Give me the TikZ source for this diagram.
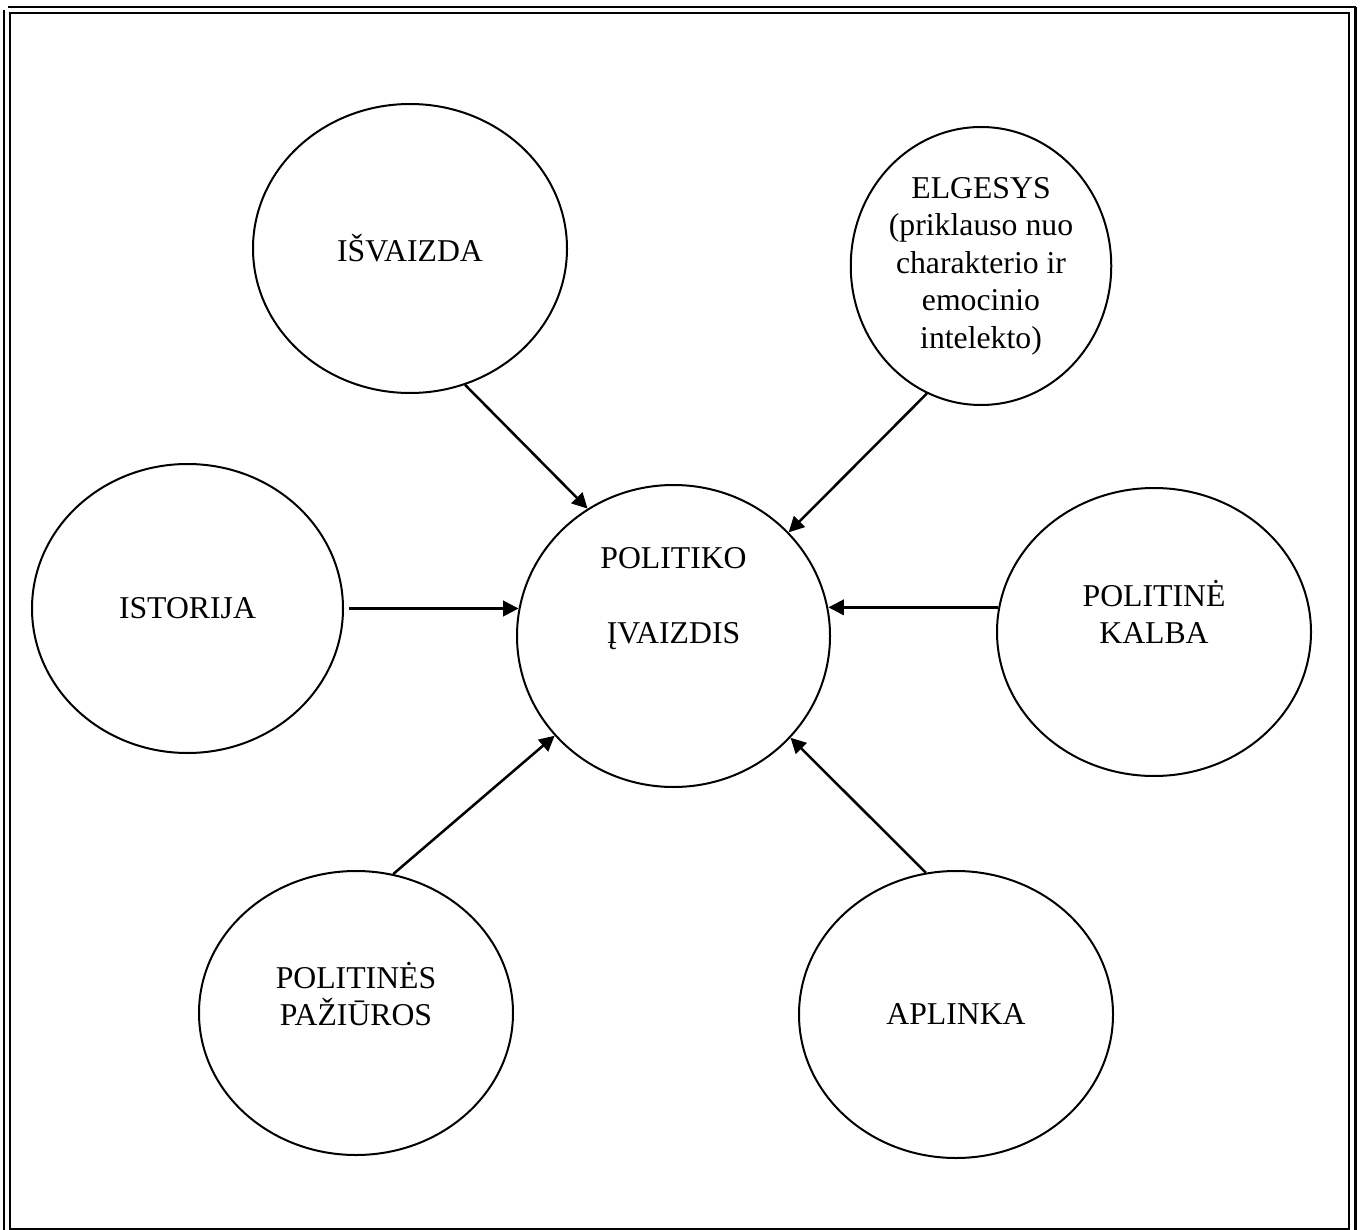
\documentclass[tikz,border=0pt]{standalone}
\usepackage{fontspec}
\setmainfont{Liberation Serif}
\usetikzlibrary{shapes.geometric,arrows.meta}
\def\pxu{0.75pt}
\begin{document}
\begin{tikzpicture}[x=0.75pt,y=-0.75pt,
  bubble/.style={ellipse, draw, line width=1.5pt, inner sep=0pt, align=center, font=\fontsize{23.8}{28.1}\selectfont},
  txt/.style={align=center, inner sep=0pt, font=\fontsize{23.8}{28.1}\selectfont},
  arr/.style={line width=1.9pt, -{Triangle[length=11.5pt,width=11.5pt]}},
  frame/.style={line width=1.6pt}]
\useasboundingbox (0,0) rectangle (1363,1230);
\fill[white] (0,0) rectangle (1363,1230);
% page border
\draw[frame] (8,7) -- (1356,7);
\draw[frame] (4,10) -- (4,1232);
\draw[frame] (1355.5,7) -- (1355.5,1232);
\draw[frame] (10,13) -- (1349,13) -- (1349,1229) -- (10,1229) -- cycle;
% nodes
\node[bubble, minimum width=314*\pxu, minimum height=289*\pxu] (isv) at (410,248.5) {IŠVAIZDA};
\node[bubble, minimum width=256*\pxu, minimum height=278*\pxu] (elg) at (981,266) {ELGESYS\\(priklauso nuo\\charakterio ir\\emocinio\\intelekto)};
\node[bubble, minimum width=311*\pxu, minimum height=289*\pxu] (ist) at (187.5,608.5) {ISTORIJA};
\node[bubble, minimum width=313*\pxu, minimum height=302*\pxu,
      label={[txt,yshift=37*\pxu]center:{POLITIKO\\[28pt]ĮVAIZDIS}}] (pol) at (673.5,636) {};
\node[bubble, minimum width=314*\pxu, minimum height=288*\pxu,
      label={[txt,yshift=20*\pxu]center:{POLITINĖ\\KALBA}}] (kal) at (1154,632) {};
\node[bubble, minimum width=314*\pxu, minimum height=284*\pxu,
      label={[txt,yshift=19*\pxu]center:{POLITINĖS\\PAŽIŪROS}}] (paz) at (356,1013) {};
\node[bubble, minimum width=314*\pxu, minimum height=287*\pxu] (apl) at (956,1014.5) {APLINKA};
% connectors
\draw[arr] (isv.-68.6) -- (pol.124.2);
\draw[arr] (elg.-113.8) -- (pol.42.5);
\draw[arr, shorten <=3.75pt] (ist.east) -- (pol.170 |- ist.east);
\draw[arr] (kal.171.6) -- (pol.10.7 |- kal.171.6);
\draw[arr] (paz.75.7) -- (pol.-140.7);
\draw[arr] (apl.102.4) -- (pol.-41.6);
\end{tikzpicture}
\end{document}
